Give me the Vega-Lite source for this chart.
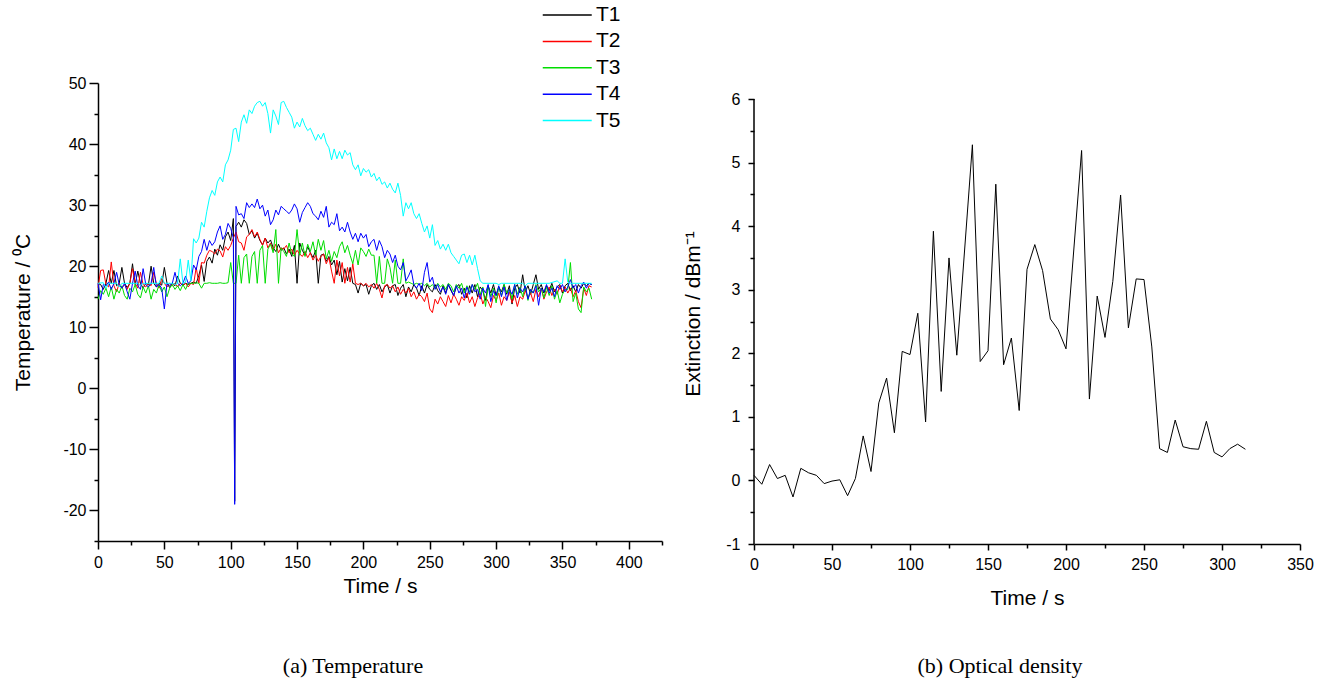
{
"$schema":"https://vega.github.io/schema/vega-lite/v6.json",
"background":"white",
"padding":{"left":12,"top":2,"right":5,"bottom":5},
"spacing":19,
"config":{"view":{"stroke":null},"font":"Liberation Sans",
 "axis":{"grid":false,"domainColor":"black","domainWidth":1.5,"tickColor":"black","tickWidth":1.5,"labelColor":"black","labelFont":"Liberation Sans","labelFontSize":16,"titleFont":"Liberation Sans","titleFontSize":21,"titleFontWeight":"normal","titleColor":"black","labelOverlap":false,"labelFlush":false,"labelBound":false}},
"datasets":{
"temp":[
{"t":0,"s":"T1","v":17.2},{"t":2,"s":"T1","v":17.0},{"t":4,"s":"T1","v":16.2},{"t":6,"s":"T1","v":17.2},{"t":8,"s":"T1","v":19.3},
{"t":10,"s":"T1","v":17.2},{"t":12,"s":"T1","v":19.3},{"t":14,"s":"T1","v":16.8},{"t":16,"s":"T1","v":17.2},{"t":18,"s":"T1","v":19.8},
{"t":20,"s":"T1","v":17.2},{"t":22,"s":"T1","v":16.5},{"t":24,"s":"T1","v":17.2},{"t":26,"s":"T1","v":20.4},{"t":28,"s":"T1","v":17.0},
{"t":30,"s":"T1","v":19.2},{"t":32,"s":"T1","v":17.2},{"t":34,"s":"T1","v":16.4},{"t":36,"s":"T1","v":17.2},{"t":38,"s":"T1","v":17.0},
{"t":40,"s":"T1","v":20.0},{"t":42,"s":"T1","v":17.2},{"t":44,"s":"T1","v":16.6},{"t":46,"s":"T1","v":17.2},{"t":48,"s":"T1","v":16.9},
{"t":50,"s":"T1","v":19.8},{"t":52,"s":"T1","v":17.2},{"t":54,"s":"T1","v":16.5},{"t":56,"s":"T1","v":17.2},{"t":58,"s":"T1","v":16.8},
{"t":60,"s":"T1","v":18.4},{"t":62,"s":"T1","v":17.2},{"t":64,"s":"T1","v":16.9},{"t":66,"s":"T1","v":17.2},{"t":68,"s":"T1","v":17.0},
{"t":70,"s":"T1","v":17.2},{"t":72,"s":"T1","v":17.4},{"t":74,"s":"T1","v":17.2},{"t":76,"s":"T1","v":18.5},{"t":78,"s":"T1","v":20.2},
{"t":80,"s":"T1","v":17.5},{"t":82,"s":"T1","v":20.8},{"t":84,"s":"T1","v":21.5},{"t":86,"s":"T1","v":20.5},{"t":88,"s":"T1","v":22.8},
{"t":90,"s":"T1","v":21.8},{"t":92,"s":"T1","v":23.5},{"t":94,"s":"T1","v":22.6},{"t":96,"s":"T1","v":24.8},{"t":98,"s":"T1","v":25.6},
{"t":100,"s":"T1","v":24.2},{"t":102,"s":"T1","v":27.8},{"t":103,"s":"T1","v":-18.5},{"t":104,"s":"T1","v":26.5},{"t":106,"s":"T1","v":27.2},{"t":108,"s":"T1","v":26.4},
{"t":110,"s":"T1","v":27.6},{"t":112,"s":"T1","v":27.0},{"t":114,"s":"T1","v":25.2},{"t":116,"s":"T1","v":25.8},{"t":118,"s":"T1","v":24.6},
{"t":120,"s":"T1","v":25.4},{"t":122,"s":"T1","v":24.2},{"t":124,"s":"T1","v":23.5},{"t":126,"s":"T1","v":24.6},{"t":128,"s":"T1","v":23.8},
{"t":130,"s":"T1","v":24.3},{"t":132,"s":"T1","v":23.0},{"t":134,"s":"T1","v":22.4},{"t":136,"s":"T1","v":23.6},{"t":138,"s":"T1","v":22.6},
{"t":140,"s":"T1","v":23.0},{"t":142,"s":"T1","v":22.0},{"t":144,"s":"T1","v":22.8},{"t":146,"s":"T1","v":21.6},{"t":148,"s":"T1","v":23.4},
{"t":150,"s":"T1","v":17.2},{"t":152,"s":"T1","v":23.8},{"t":154,"s":"T1","v":22.6},{"t":156,"s":"T1","v":21.8},{"t":158,"s":"T1","v":23.2},
{"t":160,"s":"T1","v":22.2},{"t":162,"s":"T1","v":21.4},{"t":164,"s":"T1","v":22.6},{"t":166,"s":"T1","v":17.2},{"t":168,"s":"T1","v":21.8},
{"t":170,"s":"T1","v":22.0},{"t":172,"s":"T1","v":20.8},{"t":174,"s":"T1","v":21.6},{"t":176,"s":"T1","v":20.2},{"t":178,"s":"T1","v":21.0},
{"t":180,"s":"T1","v":18.6},{"t":182,"s":"T1","v":20.8},{"t":184,"s":"T1","v":17.4},{"t":186,"s":"T1","v":19.6},{"t":188,"s":"T1","v":17.6},
{"t":190,"s":"T1","v":19.8},{"t":192,"s":"T1","v":17.2},{"t":194,"s":"T1","v":17.0},{"t":196,"s":"T1","v":15.6},{"t":198,"s":"T1","v":17.2},
{"t":200,"s":"T1","v":16.8},{"t":202,"s":"T1","v":17.0},{"t":204,"s":"T1","v":15.4},{"t":206,"s":"T1","v":16.8},{"t":208,"s":"T1","v":17.2},
{"t":210,"s":"T1","v":16.2},{"t":212,"s":"T1","v":17.0},{"t":214,"s":"T1","v":15.8},{"t":216,"s":"T1","v":16.6},{"t":218,"s":"T1","v":17.0},
{"t":220,"s":"T1","v":15.6},{"t":222,"s":"T1","v":16.8},{"t":224,"s":"T1","v":17.0},{"t":226,"s":"T1","v":15.2},{"t":228,"s":"T1","v":16.4},
{"t":230,"s":"T1","v":17.0},{"t":232,"s":"T1","v":15.0},{"t":234,"s":"T1","v":16.6},{"t":236,"s":"T1","v":15.8},{"t":238,"s":"T1","v":17.0},
{"t":240,"s":"T1","v":16.4},{"t":242,"s":"T1","v":15.2},{"t":244,"s":"T1","v":16.8},{"t":246,"s":"T1","v":15.6},{"t":248,"s":"T1","v":17.0},
{"t":250,"s":"T1","v":16.2},{"t":252,"s":"T1","v":15.8},{"t":254,"s":"T1","v":17.0},{"t":256,"s":"T1","v":16.0},{"t":258,"s":"T1","v":15.4},
{"t":260,"s":"T1","v":16.8},{"t":262,"s":"T1","v":15.6},{"t":264,"s":"T1","v":17.0},{"t":266,"s":"T1","v":16.0},{"t":268,"s":"T1","v":15.2},
{"t":270,"s":"T1","v":16.6},{"t":272,"s":"T1","v":17.0},{"t":274,"s":"T1","v":15.4},{"t":276,"s":"T1","v":16.4},{"t":278,"s":"T1","v":14.8},
{"t":280,"s":"T1","v":16.8},{"t":282,"s":"T1","v":15.6},{"t":284,"s":"T1","v":17.0},{"t":286,"s":"T1","v":15.0},{"t":288,"s":"T1","v":16.6},
{"t":290,"s":"T1","v":16.0},{"t":292,"s":"T1","v":14.4},{"t":294,"s":"T1","v":16.8},{"t":296,"s":"T1","v":15.6},{"t":298,"s":"T1","v":17.0},
{"t":300,"s":"T1","v":15.2},{"t":302,"s":"T1","v":16.6},{"t":304,"s":"T1","v":15.8},{"t":306,"s":"T1","v":17.0},{"t":308,"s":"T1","v":15.4},
{"t":310,"s":"T1","v":16.8},{"t":312,"s":"T1","v":13.8},{"t":314,"s":"T1","v":16.4},{"t":316,"s":"T1","v":17.0},{"t":318,"s":"T1","v":15.6},
{"t":320,"s":"T1","v":18.6},{"t":322,"s":"T1","v":15.8},{"t":324,"s":"T1","v":16.8},{"t":326,"s":"T1","v":15.4},{"t":328,"s":"T1","v":17.0},
{"t":330,"s":"T1","v":18.6},{"t":332,"s":"T1","v":16.2},{"t":334,"s":"T1","v":17.0},{"t":336,"s":"T1","v":15.6},{"t":338,"s":"T1","v":16.8},
{"t":340,"s":"T1","v":16.0},{"t":342,"s":"T1","v":17.2},{"t":344,"s":"T1","v":15.8},{"t":346,"s":"T1","v":16.6},{"t":348,"s":"T1","v":17.0},
{"t":350,"s":"T1","v":15.6},{"t":352,"s":"T1","v":16.8},{"t":354,"s":"T1","v":17.2},{"t":356,"s":"T1","v":16.0},{"t":358,"s":"T1","v":16.8},
{"t":360,"s":"T1","v":15.8},{"t":362,"s":"T1","v":17.0},{"t":364,"s":"T1","v":16.4},{"t":366,"s":"T1","v":17.2},{"t":368,"s":"T1","v":16.8},
{"t":370,"s":"T1","v":17.2},{"t":372,"s":"T1","v":17.0},
{"t":0,"s":"T2","v":16.5},{"t":2,"s":"T2","v":19.3},{"t":4,"s":"T2","v":19.4},{"t":6,"s":"T2","v":17.0},{"t":8,"s":"T2","v":16.6},
{"t":10,"s":"T2","v":20.7},{"t":12,"s":"T2","v":16.8},{"t":14,"s":"T2","v":15.8},{"t":16,"s":"T2","v":17.2},{"t":18,"s":"T2","v":16.4},
{"t":20,"s":"T2","v":17.0},{"t":22,"s":"T2","v":16.2},{"t":24,"s":"T2","v":17.2},{"t":26,"s":"T2","v":19.6},{"t":28,"s":"T2","v":17.2},
{"t":30,"s":"T2","v":16.4},{"t":32,"s":"T2","v":19.0},{"t":34,"s":"T2","v":17.0},{"t":36,"s":"T2","v":16.6},{"t":38,"s":"T2","v":17.2},
{"t":40,"s":"T2","v":16.8},{"t":42,"s":"T2","v":19.0},{"t":44,"s":"T2","v":17.2},{"t":46,"s":"T2","v":16.4},{"t":48,"s":"T2","v":18.0},
{"t":50,"s":"T2","v":17.2},{"t":52,"s":"T2","v":16.6},{"t":54,"s":"T2","v":17.2},{"t":56,"s":"T2","v":16.8},{"t":58,"s":"T2","v":17.2},
{"t":60,"s":"T2","v":16.6},{"t":62,"s":"T2","v":17.2},{"t":64,"s":"T2","v":16.8},{"t":66,"s":"T2","v":17.2},{"t":68,"s":"T2","v":16.6},
{"t":70,"s":"T2","v":17.2},{"t":72,"s":"T2","v":17.0},{"t":74,"s":"T2","v":19.8},{"t":76,"s":"T2","v":17.2},{"t":78,"s":"T2","v":20.6},
{"t":80,"s":"T2","v":20.5},{"t":82,"s":"T2","v":21.8},{"t":84,"s":"T2","v":22.6},{"t":86,"s":"T2","v":22.4},{"t":88,"s":"T2","v":22.0},
{"t":90,"s":"T2","v":22.8},{"t":92,"s":"T2","v":22.5},{"t":94,"s":"T2","v":21.5},{"t":96,"s":"T2","v":23.2},{"t":98,"s":"T2","v":22.6},
{"t":100,"s":"T2","v":23.4},{"t":102,"s":"T2","v":24.6},{"t":104,"s":"T2","v":25.6},{"t":106,"s":"T2","v":24.0},{"t":108,"s":"T2","v":23.8},
{"t":110,"s":"T2","v":22.6},{"t":112,"s":"T2","v":24.8},{"t":114,"s":"T2","v":25.2},{"t":116,"s":"T2","v":26.0},{"t":118,"s":"T2","v":24.8},
{"t":120,"s":"T2","v":25.6},{"t":122,"s":"T2","v":24.4},{"t":124,"s":"T2","v":23.4},{"t":126,"s":"T2","v":24.6},{"t":128,"s":"T2","v":23.0},
{"t":130,"s":"T2","v":23.8},{"t":132,"s":"T2","v":22.6},{"t":134,"s":"T2","v":23.6},{"t":136,"s":"T2","v":22.2},{"t":138,"s":"T2","v":23.0},
{"t":140,"s":"T2","v":22.8},{"t":142,"s":"T2","v":23.4},{"t":144,"s":"T2","v":22.2},{"t":146,"s":"T2","v":22.8},{"t":148,"s":"T2","v":21.8},
{"t":150,"s":"T2","v":22.6},{"t":152,"s":"T2","v":22.0},{"t":154,"s":"T2","v":21.6},{"t":156,"s":"T2","v":22.4},{"t":158,"s":"T2","v":21.4},
{"t":160,"s":"T2","v":22.2},{"t":162,"s":"T2","v":21.0},{"t":164,"s":"T2","v":21.8},{"t":166,"s":"T2","v":20.8},{"t":168,"s":"T2","v":21.6},
{"t":170,"s":"T2","v":22.0},{"t":172,"s":"T2","v":20.4},{"t":174,"s":"T2","v":21.4},{"t":176,"s":"T2","v":19.2},{"t":178,"s":"T2","v":17.2},
{"t":180,"s":"T2","v":21.0},{"t":182,"s":"T2","v":18.4},{"t":184,"s":"T2","v":20.6},{"t":186,"s":"T2","v":17.2},{"t":188,"s":"T2","v":19.8},
{"t":190,"s":"T2","v":17.4},{"t":192,"s":"T2","v":20.4},{"t":194,"s":"T2","v":17.2},{"t":196,"s":"T2","v":17.0},{"t":198,"s":"T2","v":17.2},
{"t":200,"s":"T2","v":16.8},{"t":202,"s":"T2","v":17.2},{"t":204,"s":"T2","v":16.6},{"t":206,"s":"T2","v":17.0},{"t":208,"s":"T2","v":16.4},
{"t":210,"s":"T2","v":17.2},{"t":212,"s":"T2","v":16.2},{"t":214,"s":"T2","v":14.8},{"t":216,"s":"T2","v":16.8},{"t":218,"s":"T2","v":17.0},
{"t":220,"s":"T2","v":16.4},{"t":222,"s":"T2","v":16.8},{"t":224,"s":"T2","v":15.8},{"t":226,"s":"T2","v":16.6},{"t":228,"s":"T2","v":15.4},
{"t":230,"s":"T2","v":16.2},{"t":232,"s":"T2","v":15.6},{"t":234,"s":"T2","v":16.4},{"t":236,"s":"T2","v":15.0},{"t":238,"s":"T2","v":15.8},
{"t":240,"s":"T2","v":14.6},{"t":242,"s":"T2","v":15.4},{"t":244,"s":"T2","v":15.0},{"t":246,"s":"T2","v":14.2},{"t":248,"s":"T2","v":15.6},
{"t":250,"s":"T2","v":13.0},{"t":252,"s":"T2","v":12.4},{"t":254,"s":"T2","v":14.6},{"t":256,"s":"T2","v":13.8},{"t":258,"s":"T2","v":15.0},
{"t":260,"s":"T2","v":14.2},{"t":262,"s":"T2","v":13.4},{"t":264,"s":"T2","v":15.2},{"t":266,"s":"T2","v":14.0},{"t":268,"s":"T2","v":15.4},
{"t":270,"s":"T2","v":14.6},{"t":272,"s":"T2","v":13.6},{"t":274,"s":"T2","v":15.0},{"t":276,"s":"T2","v":14.4},{"t":278,"s":"T2","v":15.6},
{"t":280,"s":"T2","v":14.0},{"t":282,"s":"T2","v":15.0},{"t":284,"s":"T2","v":13.4},{"t":286,"s":"T2","v":14.8},{"t":288,"s":"T2","v":15.6},
{"t":290,"s":"T2","v":13.8},{"t":292,"s":"T2","v":15.0},{"t":294,"s":"T2","v":14.2},{"t":296,"s":"T2","v":13.2},{"t":298,"s":"T2","v":15.2},
{"t":300,"s":"T2","v":14.4},{"t":302,"s":"T2","v":15.6},{"t":304,"s":"T2","v":13.6},{"t":306,"s":"T2","v":15.0},{"t":308,"s":"T2","v":14.4},
{"t":310,"s":"T2","v":15.8},{"t":312,"s":"T2","v":14.0},{"t":314,"s":"T2","v":15.2},{"t":316,"s":"T2","v":13.4},{"t":318,"s":"T2","v":15.0},
{"t":320,"s":"T2","v":14.6},{"t":322,"s":"T2","v":16.0},{"t":324,"s":"T2","v":14.8},{"t":326,"s":"T2","v":15.6},{"t":328,"s":"T2","v":14.2},
{"t":330,"s":"T2","v":16.2},{"t":332,"s":"T2","v":15.0},{"t":334,"s":"T2","v":16.4},{"t":336,"s":"T2","v":14.6},{"t":338,"s":"T2","v":15.8},
{"t":340,"s":"T2","v":16.6},{"t":342,"s":"T2","v":15.2},{"t":344,"s":"T2","v":16.2},{"t":346,"s":"T2","v":15.4},{"t":348,"s":"T2","v":16.8},
{"t":350,"s":"T2","v":15.8},{"t":352,"s":"T2","v":16.6},{"t":354,"s":"T2","v":15.6},{"t":356,"s":"T2","v":16.4},{"t":358,"s":"T2","v":15.0},
{"t":360,"s":"T2","v":16.0},{"t":362,"s":"T2","v":14.2},{"t":364,"s":"T2","v":13.2},{"t":366,"s":"T2","v":16.4},{"t":368,"s":"T2","v":15.2},
{"t":370,"s":"T2","v":16.8},{"t":372,"s":"T2","v":16.6},
{"t":0,"s":"T3","v":14.6},{"t":2,"s":"T3","v":16.0},{"t":4,"s":"T3","v":15.4},{"t":6,"s":"T3","v":16.4},{"t":8,"s":"T3","v":15.0},
{"t":10,"s":"T3","v":16.6},{"t":12,"s":"T3","v":14.6},{"t":14,"s":"T3","v":16.2},{"t":16,"s":"T3","v":15.6},{"t":18,"s":"T3","v":16.8},
{"t":20,"s":"T3","v":15.2},{"t":22,"s":"T3","v":14.6},{"t":24,"s":"T3","v":16.4},{"t":26,"s":"T3","v":15.8},{"t":28,"s":"T3","v":17.0},
{"t":30,"s":"T3","v":15.4},{"t":32,"s":"T3","v":14.8},{"t":34,"s":"T3","v":16.6},{"t":36,"s":"T3","v":15.6},{"t":38,"s":"T3","v":16.8},
{"t":40,"s":"T3","v":14.6},{"t":42,"s":"T3","v":16.2},{"t":44,"s":"T3","v":15.6},{"t":46,"s":"T3","v":17.0},{"t":48,"s":"T3","v":15.8},
{"t":50,"s":"T3","v":16.6},{"t":52,"s":"T3","v":15.0},{"t":54,"s":"T3","v":16.4},{"t":56,"s":"T3","v":17.0},{"t":58,"s":"T3","v":16.2},
{"t":60,"s":"T3","v":16.8},{"t":62,"s":"T3","v":16.0},{"t":64,"s":"T3","v":17.0},{"t":66,"s":"T3","v":16.2},{"t":68,"s":"T3","v":17.2},
{"t":70,"s":"T3","v":17.2},{"t":72,"s":"T3","v":17.2},{"t":74,"s":"T3","v":17.3},{"t":76,"s":"T3","v":17.2},{"t":78,"s":"T3","v":16.4},
{"t":80,"s":"T3","v":17.2},{"t":82,"s":"T3","v":17.2},{"t":84,"s":"T3","v":17.3},{"t":86,"s":"T3","v":17.2},{"t":88,"s":"T3","v":17.2},
{"t":90,"s":"T3","v":17.2},{"t":92,"s":"T3","v":17.3},{"t":94,"s":"T3","v":17.2},{"t":96,"s":"T3","v":17.2},{"t":98,"s":"T3","v":17.3},
{"t":100,"s":"T3","v":20.6},{"t":102,"s":"T3","v":17.2},{"t":104,"s":"T3","v":17.2},{"t":106,"s":"T3","v":21.8},{"t":108,"s":"T3","v":17.2},
{"t":110,"s":"T3","v":21.4},{"t":112,"s":"T3","v":22.0},{"t":114,"s":"T3","v":17.2},{"t":116,"s":"T3","v":21.6},{"t":118,"s":"T3","v":22.4},
{"t":120,"s":"T3","v":17.2},{"t":122,"s":"T3","v":22.6},{"t":124,"s":"T3","v":23.4},{"t":126,"s":"T3","v":17.2},{"t":128,"s":"T3","v":22.8},
{"t":130,"s":"T3","v":23.6},{"t":132,"s":"T3","v":22.2},{"t":134,"s":"T3","v":26.0},{"t":136,"s":"T3","v":17.2},{"t":138,"s":"T3","v":23.0},
{"t":140,"s":"T3","v":22.4},{"t":142,"s":"T3","v":21.6},{"t":144,"s":"T3","v":23.8},{"t":146,"s":"T3","v":22.0},{"t":148,"s":"T3","v":21.6},
{"t":150,"s":"T3","v":26.0},{"t":152,"s":"T3","v":21.8},{"t":154,"s":"T3","v":23.8},{"t":156,"s":"T3","v":21.6},{"t":158,"s":"T3","v":23.6},
{"t":160,"s":"T3","v":22.4},{"t":162,"s":"T3","v":24.0},{"t":164,"s":"T3","v":21.8},{"t":166,"s":"T3","v":24.4},{"t":168,"s":"T3","v":22.6},
{"t":170,"s":"T3","v":24.2},{"t":172,"s":"T3","v":21.2},{"t":174,"s":"T3","v":22.6},{"t":176,"s":"T3","v":20.8},{"t":178,"s":"T3","v":22.4},
{"t":180,"s":"T3","v":21.4},{"t":182,"s":"T3","v":23.2},{"t":184,"s":"T3","v":24.0},{"t":186,"s":"T3","v":22.2},{"t":188,"s":"T3","v":23.4},
{"t":190,"s":"T3","v":21.8},{"t":192,"s":"T3","v":20.4},{"t":194,"s":"T3","v":22.6},{"t":196,"s":"T3","v":20.2},{"t":198,"s":"T3","v":23.0},
{"t":200,"s":"T3","v":22.4},{"t":202,"s":"T3","v":21.6},{"t":204,"s":"T3","v":22.8},{"t":206,"s":"T3","v":21.8},{"t":208,"s":"T3","v":21.8},
{"t":210,"s":"T3","v":17.2},{"t":212,"s":"T3","v":21.6},{"t":214,"s":"T3","v":17.2},{"t":216,"s":"T3","v":17.2},{"t":218,"s":"T3","v":21.2},
{"t":220,"s":"T3","v":19.8},{"t":222,"s":"T3","v":17.2},{"t":224,"s":"T3","v":21.0},{"t":226,"s":"T3","v":17.2},{"t":228,"s":"T3","v":17.2},
{"t":230,"s":"T3","v":21.2},{"t":232,"s":"T3","v":17.2},{"t":234,"s":"T3","v":17.4},{"t":236,"s":"T3","v":17.2},{"t":238,"s":"T3","v":17.0},
{"t":240,"s":"T3","v":17.2},{"t":242,"s":"T3","v":17.0},{"t":244,"s":"T3","v":17.2},{"t":246,"s":"T3","v":16.8},{"t":248,"s":"T3","v":17.2},
{"t":250,"s":"T3","v":16.6},{"t":252,"s":"T3","v":17.0},{"t":254,"s":"T3","v":16.4},{"t":256,"s":"T3","v":17.2},{"t":258,"s":"T3","v":16.6},
{"t":260,"s":"T3","v":17.0},{"t":262,"s":"T3","v":16.2},{"t":264,"s":"T3","v":17.2},{"t":266,"s":"T3","v":16.8},{"t":268,"s":"T3","v":15.8},
{"t":270,"s":"T3","v":17.0},{"t":272,"s":"T3","v":16.4},{"t":274,"s":"T3","v":17.2},{"t":276,"s":"T3","v":15.6},{"t":278,"s":"T3","v":16.8},
{"t":280,"s":"T3","v":15.8},{"t":282,"s":"T3","v":17.0},{"t":284,"s":"T3","v":16.2},{"t":286,"s":"T3","v":17.2},{"t":288,"s":"T3","v":15.4},
{"t":290,"s":"T3","v":16.6},{"t":292,"s":"T3","v":13.4},{"t":294,"s":"T3","v":16.8},{"t":296,"s":"T3","v":15.0},{"t":298,"s":"T3","v":16.4},
{"t":300,"s":"T3","v":14.0},{"t":302,"s":"T3","v":16.6},{"t":304,"s":"T3","v":15.2},{"t":306,"s":"T3","v":17.0},{"t":308,"s":"T3","v":15.6},
{"t":310,"s":"T3","v":16.2},{"t":312,"s":"T3","v":14.6},{"t":314,"s":"T3","v":17.0},{"t":316,"s":"T3","v":15.4},{"t":318,"s":"T3","v":16.6},
{"t":320,"s":"T3","v":15.0},{"t":322,"s":"T3","v":16.8},{"t":324,"s":"T3","v":14.4},{"t":326,"s":"T3","v":16.2},{"t":328,"s":"T3","v":15.6},
{"t":330,"s":"T3","v":17.0},{"t":332,"s":"T3","v":15.8},{"t":334,"s":"T3","v":16.4},{"t":336,"s":"T3","v":14.8},{"t":338,"s":"T3","v":16.6},
{"t":340,"s":"T3","v":15.2},{"t":342,"s":"T3","v":16.8},{"t":344,"s":"T3","v":14.6},{"t":346,"s":"T3","v":16.0},{"t":348,"s":"T3","v":14.0},
{"t":350,"s":"T3","v":15.4},{"t":352,"s":"T3","v":16.2},{"t":354,"s":"T3","v":16.2},{"t":356,"s":"T3","v":20.6},{"t":358,"s":"T3","v":14.2},
{"t":360,"s":"T3","v":15.6},{"t":362,"s":"T3","v":13.0},{"t":364,"s":"T3","v":12.4},{"t":366,"s":"T3","v":16.6},{"t":368,"s":"T3","v":15.8},
{"t":370,"s":"T3","v":16.4},{"t":372,"s":"T3","v":14.6},
{"t":0,"s":"T4","v":17.2},{"t":2,"s":"T4","v":14.5},{"t":4,"s":"T4","v":17.0},{"t":6,"s":"T4","v":16.8},{"t":8,"s":"T4","v":17.4},
{"t":10,"s":"T4","v":16.2},{"t":12,"s":"T4","v":17.2},{"t":14,"s":"T4","v":19.0},{"t":16,"s":"T4","v":17.0},{"t":18,"s":"T4","v":16.4},
{"t":20,"s":"T4","v":17.2},{"t":22,"s":"T4","v":15.8},{"t":24,"s":"T4","v":14.6},{"t":26,"s":"T4","v":17.2},{"t":28,"s":"T4","v":19.2},
{"t":30,"s":"T4","v":16.8},{"t":32,"s":"T4","v":16.2},{"t":34,"s":"T4","v":19.6},{"t":36,"s":"T4","v":17.0},{"t":38,"s":"T4","v":16.6},
{"t":40,"s":"T4","v":17.2},{"t":42,"s":"T4","v":19.8},{"t":44,"s":"T4","v":16.6},{"t":46,"s":"T4","v":17.0},{"t":48,"s":"T4","v":16.4},
{"t":50,"s":"T4","v":13.0},{"t":52,"s":"T4","v":17.2},{"t":54,"s":"T4","v":16.8},{"t":56,"s":"T4","v":17.2},{"t":58,"s":"T4","v":19.0},
{"t":60,"s":"T4","v":17.2},{"t":62,"s":"T4","v":16.8},{"t":64,"s":"T4","v":17.2},{"t":66,"s":"T4","v":18.4},{"t":68,"s":"T4","v":17.2},
{"t":70,"s":"T4","v":17.6},{"t":72,"s":"T4","v":20.2},{"t":74,"s":"T4","v":19.4},{"t":76,"s":"T4","v":21.6},{"t":78,"s":"T4","v":22.4},
{"t":80,"s":"T4","v":24.4},{"t":82,"s":"T4","v":22.6},{"t":84,"s":"T4","v":24.2},{"t":86,"s":"T4","v":23.4},{"t":88,"s":"T4","v":24.0},
{"t":90,"s":"T4","v":25.6},{"t":92,"s":"T4","v":26.6},{"t":94,"s":"T4","v":24.4},{"t":96,"s":"T4","v":25.2},{"t":98,"s":"T4","v":27.0},
{"t":100,"s":"T4","v":26.2},{"t":102,"s":"T4","v":24.6},{"t":103,"s":"T4","v":-19.0},{"t":104,"s":"T4","v":29.8},{"t":106,"s":"T4","v":28.4},{"t":108,"s":"T4","v":28.6},
{"t":110,"s":"T4","v":27.8},{"t":112,"s":"T4","v":30.4},{"t":114,"s":"T4","v":29.6},{"t":116,"s":"T4","v":30.2},{"t":118,"s":"T4","v":29.6},
{"t":120,"s":"T4","v":31.0},{"t":122,"s":"T4","v":29.4},{"t":124,"s":"T4","v":30.0},{"t":126,"s":"T4","v":28.2},{"t":128,"s":"T4","v":29.2},
{"t":130,"s":"T4","v":26.8},{"t":132,"s":"T4","v":27.6},{"t":134,"s":"T4","v":29.2},{"t":136,"s":"T4","v":28.4},{"t":138,"s":"T4","v":29.8},
{"t":140,"s":"T4","v":29.4},{"t":142,"s":"T4","v":29.0},{"t":144,"s":"T4","v":28.6},{"t":146,"s":"T4","v":29.2},{"t":148,"s":"T4","v":30.2},
{"t":150,"s":"T4","v":29.4},{"t":152,"s":"T4","v":27.2},{"t":154,"s":"T4","v":28.8},{"t":156,"s":"T4","v":29.6},{"t":158,"s":"T4","v":30.4},
{"t":160,"s":"T4","v":29.8},{"t":162,"s":"T4","v":28.6},{"t":164,"s":"T4","v":28.2},{"t":166,"s":"T4","v":27.6},{"t":168,"s":"T4","v":29.0},
{"t":170,"s":"T4","v":28.0},{"t":172,"s":"T4","v":29.8},{"t":174,"s":"T4","v":26.4},{"t":176,"s":"T4","v":27.2},{"t":178,"s":"T4","v":26.8},
{"t":180,"s":"T4","v":28.6},{"t":182,"s":"T4","v":25.8},{"t":184,"s":"T4","v":26.4},{"t":186,"s":"T4","v":25.6},{"t":188,"s":"T4","v":27.2},
{"t":190,"s":"T4","v":25.6},{"t":192,"s":"T4","v":24.4},{"t":194,"s":"T4","v":25.4},{"t":196,"s":"T4","v":24.0},{"t":198,"s":"T4","v":25.4},
{"t":200,"s":"T4","v":24.6},{"t":202,"s":"T4","v":25.2},{"t":204,"s":"T4","v":23.2},{"t":206,"s":"T4","v":24.0},{"t":208,"s":"T4","v":24.4},
{"t":210,"s":"T4","v":22.6},{"t":212,"s":"T4","v":24.2},{"t":214,"s":"T4","v":23.2},{"t":216,"s":"T4","v":21.4},{"t":218,"s":"T4","v":22.6},
{"t":220,"s":"T4","v":22.0},{"t":222,"s":"T4","v":20.6},{"t":224,"s":"T4","v":21.8},{"t":226,"s":"T4","v":20.0},{"t":228,"s":"T4","v":19.4},
{"t":230,"s":"T4","v":20.6},{"t":232,"s":"T4","v":17.6},{"t":234,"s":"T4","v":18.4},{"t":236,"s":"T4","v":19.4},{"t":238,"s":"T4","v":17.0},
{"t":240,"s":"T4","v":16.4},{"t":242,"s":"T4","v":17.2},{"t":244,"s":"T4","v":16.0},{"t":246,"s":"T4","v":19.0},{"t":248,"s":"T4","v":20.6},
{"t":250,"s":"T4","v":17.4},{"t":252,"s":"T4","v":18.2},{"t":254,"s":"T4","v":16.2},{"t":256,"s":"T4","v":17.0},{"t":258,"s":"T4","v":15.8},
{"t":260,"s":"T4","v":16.6},{"t":262,"s":"T4","v":15.4},{"t":264,"s":"T4","v":17.0},{"t":266,"s":"T4","v":16.2},{"t":268,"s":"T4","v":15.2},
{"t":270,"s":"T4","v":16.8},{"t":272,"s":"T4","v":15.6},{"t":274,"s":"T4","v":16.4},{"t":276,"s":"T4","v":14.8},{"t":278,"s":"T4","v":16.6},
{"t":280,"s":"T4","v":15.4},{"t":282,"s":"T4","v":17.0},{"t":284,"s":"T4","v":15.8},{"t":286,"s":"T4","v":16.2},{"t":288,"s":"T4","v":14.6},
{"t":290,"s":"T4","v":16.4},{"t":292,"s":"T4","v":15.6},{"t":294,"s":"T4","v":17.0},{"t":296,"s":"T4","v":14.2},{"t":298,"s":"T4","v":16.0},
{"t":300,"s":"T4","v":15.2},{"t":302,"s":"T4","v":16.8},{"t":304,"s":"T4","v":15.0},{"t":306,"s":"T4","v":16.6},{"t":308,"s":"T4","v":14.4},
{"t":310,"s":"T4","v":16.2},{"t":312,"s":"T4","v":15.4},{"t":314,"s":"T4","v":17.0},{"t":316,"s":"T4","v":14.8},{"t":318,"s":"T4","v":16.4},
{"t":320,"s":"T4","v":15.8},{"t":322,"s":"T4","v":16.8},{"t":324,"s":"T4","v":14.6},{"t":326,"s":"T4","v":16.2},{"t":328,"s":"T4","v":15.6},
{"t":330,"s":"T4","v":16.8},{"t":332,"s":"T4","v":13.6},{"t":334,"s":"T4","v":16.4},{"t":336,"s":"T4","v":15.8},{"t":338,"s":"T4","v":17.0},
{"t":340,"s":"T4","v":15.6},{"t":342,"s":"T4","v":16.4},{"t":344,"s":"T4","v":15.0},{"t":346,"s":"T4","v":16.8},{"t":348,"s":"T4","v":16.2},
{"t":350,"s":"T4","v":17.0},{"t":352,"s":"T4","v":15.8},{"t":354,"s":"T4","v":16.6},{"t":356,"s":"T4","v":17.8},{"t":358,"s":"T4","v":16.4},
{"t":360,"s":"T4","v":17.0},{"t":362,"s":"T4","v":15.6},{"t":364,"s":"T4","v":16.8},{"t":366,"s":"T4","v":17.4},{"t":368,"s":"T4","v":16.4},
{"t":370,"s":"T4","v":17.2},{"t":372,"s":"T4","v":17.0},
{"t":0,"s":"T5","v":17.2},{"t":4,"s":"T5","v":17.3},{"t":6,"s":"T5","v":16.4},{"t":8,"s":"T5","v":17.2},{"t":14,"s":"T5","v":17.2},{"t":16,"s":"T5","v":16.6},{"t":18,"s":"T5","v":17.2},
{"t":30,"s":"T5","v":17.2},{"t":32,"s":"T5","v":16.8},{"t":34,"s":"T5","v":17.2},{"t":46,"s":"T5","v":17.2},{"t":48,"s":"T5","v":18.4},{"t":50,"s":"T5","v":17.2},
{"t":56,"s":"T5","v":17.2},{"t":58,"s":"T5","v":17.0},{"t":60,"s":"T5","v":17.2},{"t":62,"s":"T5","v":21.2},{"t":64,"s":"T5","v":17.2},{"t":66,"s":"T5","v":17.4},{"t":68,"s":"T5","v":21.0},
{"t":70,"s":"T5","v":17.6},{"t":72,"s":"T5","v":24.5},{"t":74,"s":"T5","v":23.8},{"t":76,"s":"T5","v":24.6},{"t":78,"s":"T5","v":27.2},
{"t":80,"s":"T5","v":26.4},{"t":82,"s":"T5","v":29.0},{"t":84,"s":"T5","v":31.2},{"t":86,"s":"T5","v":32.4},{"t":88,"s":"T5","v":31.6},
{"t":90,"s":"T5","v":33.8},{"t":92,"s":"T5","v":34.6},{"t":94,"s":"T5","v":33.8},{"t":96,"s":"T5","v":36.6},{"t":98,"s":"T5","v":37.4},
{"t":100,"s":"T5","v":39.0},{"t":102,"s":"T5","v":42.4},{"t":104,"s":"T5","v":42.6},{"t":106,"s":"T5","v":40.4},{"t":108,"s":"T5","v":43.6},
{"t":110,"s":"T5","v":44.8},{"t":112,"s":"T5","v":43.4},{"t":114,"s":"T5","v":45.6},{"t":116,"s":"T5","v":45.0},{"t":118,"s":"T5","v":46.2},
{"t":120,"s":"T5","v":46.8},{"t":122,"s":"T5","v":47.0},{"t":124,"s":"T5","v":46.2},{"t":126,"s":"T5","v":46.8},{"t":128,"s":"T5","v":45.0},
{"t":130,"s":"T5","v":41.8},{"t":132,"s":"T5","v":45.6},{"t":134,"s":"T5","v":44.6},{"t":136,"s":"T5","v":43.2},{"t":138,"s":"T5","v":46.8},
{"t":140,"s":"T5","v":47.0},{"t":142,"s":"T5","v":46.0},{"t":144,"s":"T5","v":45.2},{"t":146,"s":"T5","v":44.4},{"t":148,"s":"T5","v":42.6},
{"t":150,"s":"T5","v":43.6},{"t":152,"s":"T5","v":42.8},{"t":154,"s":"T5","v":44.2},{"t":156,"s":"T5","v":43.0},{"t":158,"s":"T5","v":42.2},
{"t":160,"s":"T5","v":42.6},{"t":162,"s":"T5","v":41.6},{"t":164,"s":"T5","v":40.6},{"t":166,"s":"T5","v":41.6},{"t":168,"s":"T5","v":40.8},
{"t":170,"s":"T5","v":41.8},{"t":172,"s":"T5","v":40.2},{"t":174,"s":"T5","v":39.4},{"t":176,"s":"T5","v":37.4},{"t":178,"s":"T5","v":39.2},
{"t":180,"s":"T5","v":37.6},{"t":182,"s":"T5","v":38.8},{"t":184,"s":"T5","v":37.6},{"t":186,"s":"T5","v":39.0},{"t":188,"s":"T5","v":38.2},
{"t":190,"s":"T5","v":38.6},{"t":192,"s":"T5","v":36.6},{"t":194,"s":"T5","v":35.8},{"t":196,"s":"T5","v":36.6},{"t":198,"s":"T5","v":34.8},
{"t":200,"s":"T5","v":36.0},{"t":202,"s":"T5","v":35.4},{"t":204,"s":"T5","v":35.8},{"t":206,"s":"T5","v":34.6},{"t":208,"s":"T5","v":35.2},
{"t":210,"s":"T5","v":34.0},{"t":212,"s":"T5","v":34.6},{"t":214,"s":"T5","v":33.4},{"t":216,"s":"T5","v":33.8},{"t":218,"s":"T5","v":32.8},
{"t":220,"s":"T5","v":33.6},{"t":222,"s":"T5","v":32.6},{"t":224,"s":"T5","v":32.0},{"t":226,"s":"T5","v":33.6},{"t":228,"s":"T5","v":31.6},
{"t":230,"s":"T5","v":28.2},{"t":232,"s":"T5","v":30.4},{"t":234,"s":"T5","v":29.4},{"t":236,"s":"T5","v":30.4},{"t":238,"s":"T5","v":28.6},
{"t":240,"s":"T5","v":27.8},{"t":242,"s":"T5","v":28.6},{"t":244,"s":"T5","v":27.0},{"t":246,"s":"T5","v":25.6},{"t":248,"s":"T5","v":26.6},
{"t":250,"s":"T5","v":24.6},{"t":252,"s":"T5","v":26.8},{"t":254,"s":"T5","v":23.4},{"t":256,"s":"T5","v":24.2},{"t":258,"s":"T5","v":22.8},
{"t":260,"s":"T5","v":23.6},{"t":262,"s":"T5","v":22.6},{"t":264,"s":"T5","v":23.6},{"t":266,"s":"T5","v":22.2},{"t":268,"s":"T5","v":21.6},
{"t":270,"s":"T5","v":21.0},{"t":272,"s":"T5","v":20.4},{"t":274,"s":"T5","v":21.8},{"t":276,"s":"T5","v":22.0},{"t":278,"s":"T5","v":20.6},
{"t":280,"s":"T5","v":21.8},{"t":282,"s":"T5","v":20.2},{"t":284,"s":"T5","v":21.8},{"t":286,"s":"T5","v":19.6},{"t":288,"s":"T5","v":17.6},
{"t":290,"s":"T5","v":17.2},{"t":300,"s":"T5","v":17.2},{"t":302,"s":"T5","v":17.0},{"t":304,"s":"T5","v":17.2},{"t":320,"s":"T5","v":17.2},{"t":322,"s":"T5","v":16.8},{"t":324,"s":"T5","v":17.2},
{"t":340,"s":"T5","v":17.2},{"t":346,"s":"T5","v":17.6},{"t":348,"s":"T5","v":17.2},{"t":350,"s":"T5","v":17.2},{"t":352,"s":"T5","v":21.2},{"t":354,"s":"T5","v":17.4},{"t":356,"s":"T5","v":17.2},{"t":372,"s":"T5","v":17.2}
],
"ext":[
{"t":0,"e":0.08},{"t":5,"e":-0.06},{"t":10,"e":0.25},{"t":15,"e":0.03},{"t":20,"e":0.08},{"t":25,"e":-0.26},{"t":30,"e":0.19},{"t":35,"e":0.12},{"t":40,"e":0.08},{"t":45,"e":-0.05},
{"t":50,"e":-0.01},{"t":55,"e":0.01},{"t":60,"e":-0.24},{"t":65,"e":0.03},{"t":70,"e":0.70},{"t":75,"e":0.14},{"t":80,"e":1.22},{"t":85,"e":1.61},{"t":90,"e":0.75},{"t":95,"e":2.03},
{"t":100,"e":1.98},{"t":105,"e":2.63},{"t":110,"e":0.92},{"t":115,"e":3.92},{"t":120,"e":1.40},{"t":125,"e":3.50},{"t":130,"e":1.97},{"t":140,"e":5.28},{"t":145,"e":1.87},
{"t":150,"e":2.04},{"t":155,"e":4.66},{"t":160,"e":1.82},{"t":165,"e":2.24},{"t":170,"e":1.10},{"t":175,"e":3.32},{"t":180,"e":3.71},{"t":185,"e":3.30},{"t":190,"e":2.54},{"t":195,"e":2.37},
{"t":200,"e":2.07},{"t":210,"e":5.19},{"t":215,"e":1.28},{"t":220,"e":2.90},{"t":225,"e":2.25},{"t":230,"e":3.13},{"t":235,"e":4.49},{"t":240,"e":2.40},{"t":245,"e":3.17},
{"t":250,"e":3.16},{"t":255,"e":2.10},{"t":260,"e":0.50},{"t":265,"e":0.44},{"t":270,"e":0.95},{"t":275,"e":0.53},{"t":280,"e":0.50},{"t":285,"e":0.49},{"t":290,"e":0.93},
{"t":295,"e":0.44},{"t":300,"e":0.37},{"t":305,"e":0.50},{"t":310,"e":0.57},{"t":315,"e":0.49}
]
},
"hconcat":[
{"width":564,"height":458,"data":{"name":"temp"},
 "title":{"text":"(a) Temperature","orient":"bottom","font":"Liberation Serif","fontSize":22,"fontWeight":"normal","color":"black","offset":60,"dx":-27},
 "mark":{"type":"line","strokeWidth":1},
 "encoding":{
  "x":{"field":"t","type":"quantitative","scale":{"domain":[0,425],"nice":false},
   "axis":{"title":"Time / s","values":[0,25,50,75,100,125,150,175,200,225,250,275,300,325,350,375,400,425],
    "labelExpr":"datum.value % 50 === 0 ? datum.label : ''",
    "tickSize":{"condition":{"test":"datum.value % 50 === 0","value":8},"value":4},
    "labelPadding":5,"titlePadding":5}},
  "y":{"field":"v","type":"quantitative","scale":{"domain":[-25,50],"nice":false,"zero":false},
   "axis":{"title":"Temperature / ⁰C","values":[-25,-20,-15,-10,-5,0,5,10,15,20,25,30,35,40,45,50],
    "labelExpr":"datum.value % 10 === 0 ? '' + datum.value : ''",
    "tickSize":{"condition":{"test":"datum.value % 10 === 0","value":9},"value":4},
    "labelPadding":3,"titlePadding":29}},
  "color":{"field":"s","type":"nominal","scale":{"domain":["T1","T2","T3","T4","T5"],"range":["#000000","#ff0000","#00dd00","#0000ff","#00ffff"]},
   "legend":{"title":null,"orient":"none","legendX":444,"legendY":-81,"padding":0,"symbolType":"M-1,0H3","symbolSize":600,"symbolStrokeWidth":1.5,
    "labelFontSize":21,"labelFont":"Liberation Sans","labelColor":"black","labelOffset":28,"rowPadding":3.4}}
 }},
{"width":546,"height":461,"data":{"name":"ext"},
 "title":{"text":"(b) Optical density","orient":"bottom","font":"Liberation Serif","fontSize":22,"fontWeight":"normal","color":"black","offset":48,"dx":-27},
 "layer":[
  {"mark":{"type":"line","strokeWidth":1,"color":"black"},
   "encoding":{
    "x":{"field":"t","type":"quantitative","scale":{"domain":[0,350],"nice":false},
     "axis":{"title":"Time / s","values":[0,25,50,75,100,125,150,175,200,225,250,275,300,325,350],
      "labelExpr":"datum.value % 50 === 0 ? datum.label : ''",
      "tickSize":{"condition":{"test":"datum.value % 50 === 0","value":6},"value":4},
      "labelPadding":6,"titlePadding":15}},
    "y":{"field":"e","type":"quantitative","scale":{"domain":[-1,6.2517],"nice":false,"zero":false},
     "axis":{"title":"Extinction / dBm⁻¹","values":[-1,-0.5,0,0.5,1,1.5,2,2.5,3,3.5,4,4.5,5,5.5,6],"domain":false,
      "labelExpr":"datum.value % 1 === 0 ? '' + datum.value : ''",
      "tickSize":{"condition":{"test":"datum.value % 1 === 0","value":6},"value":4},
      "labelPadding":8,"titlePadding":22}}}},
  {"transform":[{"aggregate":[{"op":"count","as":"n"}]}],
   "mark":{"type":"rule","color":"black","strokeWidth":1.5},
   "encoding":{
    "x":{"datum":0,"type":"quantitative","axis":null},
    "y":{"datum":-1,"type":"quantitative","axis":null},
    "y2":{"datum":6}}}
 ],
 "resolve":{"axis":{"x":"independent","y":"independent"}}
}
]
}
